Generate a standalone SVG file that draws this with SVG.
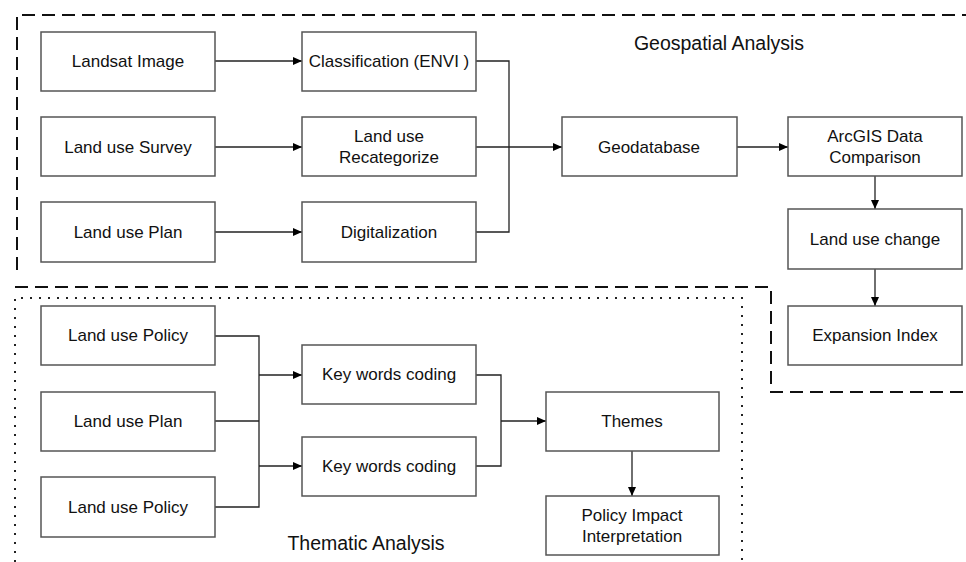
<svg xmlns="http://www.w3.org/2000/svg" width="966" height="562" viewBox="0 0 966 562">
<defs>
<marker id="arr" markerWidth="10" markerHeight="8" refX="9" refY="4" orient="auto" markerUnits="userSpaceOnUse">
<path d="M0,0 L9,4 L0,8 Z" fill="#000"/>
</marker>
</defs>
<style>
.box{fill:#fff;stroke:#555;stroke-width:1.5}
.t{font-family:"Liberation Sans",Arial,sans-serif;font-size:17px;fill:#111;text-anchor:middle;dominant-baseline:central}
.title{font-size:19.5px}
.c{fill:none;stroke:#222;stroke-width:1.3}
.dash{fill:none;stroke:#111;stroke-width:2;stroke-dasharray:13 7}
.dot{fill:none;stroke:#222;stroke-width:2;stroke-dasharray:2 7}
</style>
<rect width="966" height="562" fill="#fff"/>
<g id="regions">
<path class="dash" d="M17,270 V15 H966"/>
<path class="dash" d="M15,287 H771 V392 H966"/>
<path class="dot" d="M15,562 V298 H742 V562"/>
<text class="t title" x="719" y="43">Geospatial Analysis</text>
<text class="t title" x="366" y="543">Thematic Analysis</text>
</g>
<g id="connectors">
<path class="c" d="M215,61 H302" marker-end="url(#arr)"/>
<path class="c" d="M215,147 H302" marker-end="url(#arr)"/>
<path class="c" d="M215,232 H302" marker-end="url(#arr)"/>
<path class="c" d="M476,61 H509 V232 H476"/>
<path class="c" d="M476,147 H562" marker-end="url(#arr)"/>
<path class="c" d="M737,147 H788" marker-end="url(#arr)"/>
<path class="c" d="M875,176 V209" marker-end="url(#arr)"/>
<path class="c" d="M875,269 V306" marker-end="url(#arr)"/>
<path class="c" d="M215,336 H259 V507 H215"/>
<path class="c" d="M215,421 H259"/>
<path class="c" d="M259,375 H302" marker-end="url(#arr)"/>
<path class="c" d="M259,466 H302" marker-end="url(#arr)"/>
<path class="c" d="M476,375 H501 V466 H476"/>
<path class="c" d="M501,421 H546" marker-end="url(#arr)"/>
<path class="c" d="M632,451 V496" marker-end="url(#arr)"/>
</g>
<g id="landsat"><rect class="box" x="41" y="32" width="174" height="59"/><text class="t" x="128" y="61">Landsat Image</text></g>
<g id="survey"><rect class="box" x="41" y="117" width="174" height="59"/><text class="t" x="128" y="147">Land use Survey</text></g>
<g id="plan1"><rect class="box" x="41" y="202" width="174" height="60"/><text class="t" x="128" y="232">Land use Plan</text></g>
<g id="classification"><rect class="box" x="302" y="32" width="174" height="59"/><text class="t" x="389" y="61">Classification (ENVI )</text></g>
<g id="recategorize"><rect class="box" x="302" y="117" width="174" height="59"/><text class="t" x="389" y="136">Land use</text><text class="t" x="389" y="157">Recategorize</text></g>
<g id="digitalization"><rect class="box" x="302" y="202" width="174" height="60"/><text class="t" x="389" y="232">Digitalization</text></g>
<g id="geodatabase"><rect class="box" x="562" y="117" width="175" height="59"/><text class="t" x="649" y="147">Geodatabase</text></g>
<g id="arcgis"><rect class="box" x="788" y="117" width="174" height="59"/><text class="t" x="875" y="136">ArcGIS Data</text><text class="t" x="875" y="157">Comparison</text></g>
<g id="change"><rect class="box" x="788" y="209" width="174" height="60"/><text class="t" x="875" y="239">Land use change</text></g>
<g id="expansion"><rect class="box" x="788" y="306" width="174" height="59"/><text class="t" x="875" y="335">Expansion Index</text></g>
<g id="policy1"><rect class="box" x="41" y="306" width="174" height="59"/><text class="t" x="128" y="335">Land use Policy</text></g>
<g id="plan2"><rect class="box" x="41" y="392" width="174" height="59"/><text class="t" x="128" y="421">Land use Plan</text></g>
<g id="policy2"><rect class="box" x="41" y="477" width="174" height="60"/><text class="t" x="128" y="507">Land use Policy</text></g>
<g id="kw1"><rect class="box" x="302" y="345" width="174" height="59"/><text class="t" x="389" y="374">Key words coding</text></g>
<g id="kw2"><rect class="box" x="302" y="437" width="174" height="59"/><text class="t" x="389" y="466">Key words coding</text></g>
<g id="themes"><rect class="box" x="546" y="392" width="173" height="59"/><text class="t" x="632" y="421">Themes</text></g>
<g id="impact"><rect class="box" x="546" y="496" width="173" height="59"/><text class="t" x="632" y="515">Policy Impact</text><text class="t" x="632" y="536">Interpretation</text></g>
</svg>
